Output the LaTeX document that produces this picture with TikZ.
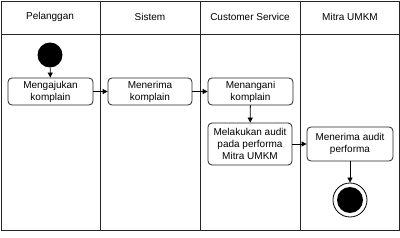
\documentclass[tikz,border=0pt]{standalone}
\usepackage{fontspec}
\setmainfont{Liberation Sans}
\usetikzlibrary{arrows.meta,positioning}

\begin{document}
\begin{tikzpicture}[x=1pt, y=-1pt,
    lane/.style={draw=black!85, line width=0.8pt},
    activity/.style={draw=black!85, line width=0.8pt, rounded corners=4pt, fill=white,
        align=center, font=\fontsize{10}{12}\selectfont, inner sep=0pt},
    flow/.style={draw=black, line width=0.8pt, -{Triangle[length=5pt, width=5pt]}},
    lanetitle/.style={font=\fontsize{10}{12}\selectfont}]
    \useasboundingbox (0,0) rectangle (400,238);

    % Swimlanes
    \draw[lane] (1,1) rectangle (399,230);
    \draw[lane] (1,34) -- (399,34);
    \foreach \x in {100,200,300}
        \draw[lane] (\x,1) -- (\x,230);
    \node[lanetitle] (t1) at (50,17) {Pelanggan};
    \node[lanetitle] (t2) at (150,17) {Sistem};
    \node[lanetitle] (t3) at (250,17) {Customer Service};
    \node[lanetitle] (t4) at (350,17) {Mitra UMKM};

    % Start
    \node[circle, fill=black, minimum size=25pt, inner sep=0pt] (start) at (50,55) {};

    % Activities
    \node[activity, minimum width=85pt, minimum height=27pt] (ajukan) at (50.5,91.5) {Mengajukan\\komplain};
    \node[activity, minimum width=84pt, minimum height=27pt] (terima) at (150,91.5) {Menerima\\komplain};
    \node[activity, minimum width=85pt, minimum height=27pt] (tangani) at (250.5,91.5) {Menangani\\komplain};
    \node[activity, minimum width=84pt, minimum height=42pt] (audit) at (250,144) {Melakukan audit\\pada performa\\Mitra UMKM};
    \node[activity, minimum width=86pt, minimum height=34pt] (hasil) at (350,144) {Menerima audit\\performa};

    % End
    \node[circle, draw=black, line width=0.8pt, fill=white, minimum size=34pt, inner sep=0pt] (end) at (350,200) {};
    \fill[black] (end.center) circle (13pt);

    % Flows
    \draw[flow] (start) -- (ajukan);
    \draw[flow] (ajukan) -- (terima);
    \draw[flow] (terima) -- (tangani);
    \draw[flow] (tangani) -- (audit);
    \draw[flow] (audit) -- (hasil);
    \draw[flow] (hasil) -- (end);
\end{tikzpicture}
\end{document}
